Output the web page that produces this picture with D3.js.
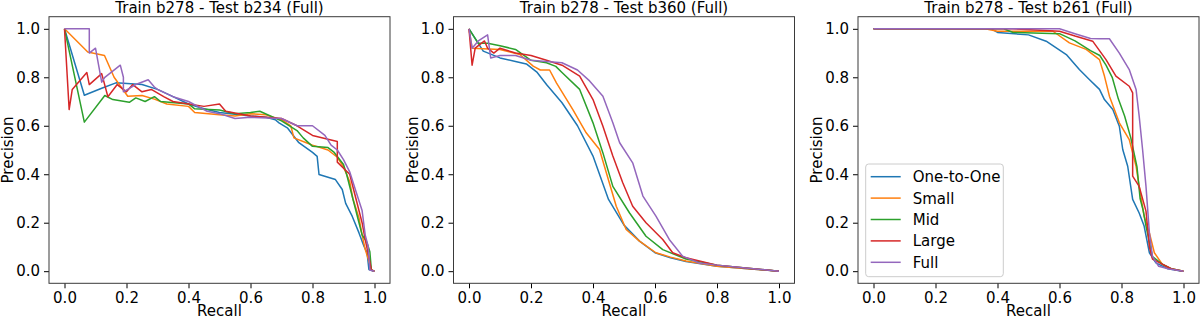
<html>
<head>
<style>
  body { margin: 0; background: #fff; }
  svg text { font-family: "DejaVu Sans", sans-serif; fill: #000; }
  .tick text { font-size: 15px; }
  .tick line { stroke: #000; }
  .domain { stroke: none; }
  .frame { fill: none; stroke: #3a3a3a; stroke-width: 1; }
  .curve { fill: none; stroke-width: 1.5; stroke-linejoin: round; }
</style>
<script src="https://d3js.org/d3.v7.min.js"></script>
</head>
<body>
<svg width="1200" height="321"></svg>
<script>
// series names and colours (legend order)
const seriesNames = ["One-to-One", "Small", "Mid", "Large", "Full"];
const seriesColors = ["#1f77b4", "#ff7f0e", "#2ca02c", "#d62728", "#9467bd"];
const tickValues = [0, 0.2, 0.4, 0.6, 0.8, 1.0];
const titles = ["Train b278 - Test b234 (Full)", "Train b278 - Test b360 (Full)", "Train b278 - Test b261 (Full)"];

// --- Test b234 : [recall, precision]
const b234_oneToOne = [[0,1],[0.064,0.726],[0.12,0.755],[0.166,0.777],[0.25,0.77],[0.3,0.75],[0.35,0.72],[0.4,0.69],[0.45,0.67],[0.5,0.655],[0.6,0.64],[0.65,0.635],[0.68,0.625],[0.692,0.612],[0.72,0.59],[0.756,0.53],[0.8,0.49],[0.815,0.474],[0.821,0.399],[0.874,0.378],[0.896,0.337],[0.907,0.28],[0.928,0.227],[0.95,0.158],[0.966,0.103],[0.976,0.076],[0.982,0.007],[0.998,0]];
const b234_small = [[0,1],[0.075,0.904],[0.129,0.89],[0.16,0.8],[0.204,0.722],[0.25,0.725],[0.29,0.71],[0.33,0.69],[0.4,0.68],[0.42,0.655],[0.5,0.645],[0.55,0.64],[0.6,0.65],[0.65,0.645],[0.7,0.625],[0.73,0.6],[0.74,0.55],[0.78,0.53],[0.8,0.52],[0.85,0.5],[0.88,0.47],[0.9,0.43],[0.92,0.37],[0.93,0.3],[0.95,0.22],[0.96,0.15],[0.97,0.09],[0.98,0.05],[0.99,0.005],[1,0]];
const b234_mid = [[0,1],[0.064,0.615],[0.13,0.725],[0.156,0.708],[0.209,0.697],[0.23,0.715],[0.26,0.7],[0.29,0.72],[0.31,0.7],[0.4,0.69],[0.42,0.67],[0.5,0.665],[0.55,0.65],[0.6,0.655],[0.63,0.66],[0.7,0.62],[0.75,0.58],[0.77,0.55],[0.8,0.515],[0.85,0.51],[0.87,0.49],[0.9,0.44],[0.91,0.4],[0.93,0.3],[0.95,0.2],[0.96,0.15],[0.975,0.12],[0.985,0.08],[0.99,0.005],[1,0]];
const b234_large = [[0,1],[0.015,0.667],[0.025,0.75],[0.072,0.82],[0.08,0.77],[0.12,0.815],[0.14,0.72],[0.17,0.77],[0.2,0.74],[0.22,0.77],[0.25,0.74],[0.28,0.75],[0.32,0.72],[0.35,0.7],[0.4,0.69],[0.45,0.68],[0.5,0.69],[0.52,0.66],[0.6,0.64],[0.7,0.63],[0.75,0.6],[0.8,0.56],[0.88,0.535],[0.88,0.45],[0.92,0.4],[0.94,0.3],[0.96,0.2],[0.97,0.13],[0.98,0.07],[0.99,0.005],[1,0]];
const b234_full = [[0,1],[0.08,1],[0.08,0.9],[0.1,0.92],[0.11,0.85],[0.12,0.78],[0.13,0.8],[0.18,0.85],[0.19,0.8],[0.19,0.74],[0.23,0.77],[0.27,0.79],[0.29,0.76],[0.3,0.75],[0.35,0.72],[0.4,0.7],[0.43,0.68],[0.46,0.66],[0.5,0.65],[0.55,0.63],[0.6,0.635],[0.7,0.63],[0.75,0.6],[0.8,0.6],[0.84,0.56],[0.86,0.52],[0.88,0.5],[0.9,0.46],[0.92,0.41],[0.94,0.33],[0.96,0.25],[0.97,0.15],[0.98,0.1],[0.985,0.005],[1,0]];

// --- Test b360
const b360_oneToOne = [[0,1],[0.046,0.908],[0.1,0.88],[0.15,0.865],[0.185,0.855],[0.22,0.82],[0.25,0.77],[0.3,0.695],[0.35,0.6],[0.4,0.475],[0.45,0.296],[0.5,0.19],[0.55,0.124],[0.6,0.076],[0.65,0.055],[0.7,0.04],[0.8,0.02],[0.9,0.01],[1,0]];
const b360_small = [[0,1],[0.01,0.92],[0.1,0.915],[0.164,0.894],[0.207,0.846],[0.23,0.83],[0.26,0.83],[0.282,0.777],[0.335,0.667],[0.378,0.571],[0.421,0.502],[0.443,0.406],[0.475,0.268],[0.507,0.172],[0.55,0.124],[0.603,0.076],[0.65,0.058],[0.7,0.042],[0.8,0.02],[0.9,0.01],[1,0]];
const b360_mid = [[0,1],[0.03,0.94],[0.06,0.94],[0.1,0.93],[0.15,0.915],[0.2,0.87],[0.25,0.86],[0.28,0.845],[0.3,0.82],[0.357,0.75],[0.4,0.612],[0.432,0.488],[0.464,0.35],[0.518,0.24],[0.571,0.144],[0.625,0.089],[0.7,0.05],[0.8,0.025],[0.9,0.012],[1,0]];
const b360_large = [[0,1],[0.01,0.85],[0.02,0.92],[0.05,0.95],[0.06,0.92],[0.08,0.9],[0.1,0.92],[0.15,0.9],[0.2,0.89],[0.25,0.87],[0.3,0.85],[0.357,0.805],[0.4,0.708],[0.432,0.598],[0.464,0.475],[0.496,0.365],[0.528,0.268],[0.571,0.2],[0.625,0.131],[0.657,0.076],[0.7,0.055],[0.8,0.025],[0.9,0.012],[1,0]];
const b360_full = [[0,1],[0.01,0.92],[0.03,0.95],[0.06,0.975],[0.07,0.88],[0.1,0.89],[0.15,0.89],[0.2,0.87],[0.3,0.86],[0.35,0.83],[0.389,0.785],[0.432,0.722],[0.464,0.612],[0.486,0.53],[0.528,0.447],[0.561,0.31],[0.603,0.227],[0.646,0.131],[0.689,0.062],[0.743,0.034],[0.8,0.025],[0.9,0.012],[1,0]];

// --- Test b261
const b261_oneToOne = [[0,1],[0.38,1],[0.4,0.985],[0.5,0.975],[0.557,0.949],[0.622,0.894],[0.664,0.832],[0.697,0.79],[0.729,0.75],[0.745,0.708],[0.772,0.667],[0.793,0.598],[0.804,0.502],[0.82,0.433],[0.836,0.296],[0.857,0.24],[0.873,0.186],[0.89,0.076],[0.911,0.034],[0.95,0.01],[0.997,0]];
const b261_small = [[0,1],[0.36,1],[0.4,0.99],[0.579,0.99],[0.632,0.942],[0.686,0.915],[0.729,0.873],[0.745,0.805],[0.761,0.722],[0.793,0.612],[0.825,0.543],[0.847,0.433],[0.857,0.35],[0.873,0.227],[0.89,0.158],[0.906,0.076],[0.932,0.028],[0.96,0.01],[1,0]];
const b261_mid = [[0,1],[0.42,1],[0.45,0.985],[0.6,0.98],[0.65,0.95],[0.7,0.91],[0.73,0.89],[0.75,0.85],[0.77,0.8],[0.79,0.71],[0.81,0.64],[0.83,0.55],[0.85,0.43],[0.86,0.3],[0.87,0.25],[0.88,0.18],[0.9,0.06],[0.93,0.03],[0.96,0.01],[1,0]];
const b261_large = [[0,1],[0.45,1],[0.6,0.99],[0.65,0.97],[0.707,0.949],[0.75,0.873],[0.782,0.805],[0.825,0.763],[0.836,0.736],[0.836,0.392],[0.857,0.35],[0.879,0.248],[0.89,0.1],[0.9,0.05],[0.93,0.03],[0.96,0.01],[1,0]];
const b261_full = [[0,1],[0.6,1],[0.65,0.98],[0.7,0.96],[0.729,0.959],[0.761,0.959],[0.793,0.9],[0.825,0.832],[0.847,0.75],[0.857,0.64],[0.868,0.502],[0.879,0.35],[0.89,0.158],[0.9,0.06],[0.92,0.02],[0.95,0.01],[1,0]];

const panels = [
  [b234_oneToOne, b234_small, b234_mid, b234_large, b234_full],
  [b360_oneToOne, b360_small, b360_mid, b360_large, b360_full],
  [b261_oneToOne, b261_small, b261_mid, b261_large, b261_full]
];

const svg = d3.select("svg");
const lefts = [49, 453.5, 858];
const topY = 16.7, w = 341, h = 266.6;

panels.forEach(function(series, pi) {
  const g = svg.append("g").attr("transform", "translate(" + lefts[pi] + "," + topY + ")");
  const xs = d3.scaleLinear().domain([-0.05, 1.05]).range([0, w]);
  const ys = d3.scaleLinear().domain([-0.05, 1.05]).range([h, 0]);

  g.append("g").attr("transform", "translate(0," + h + ")")
    .call(d3.axisBottom(xs).tickValues(tickValues).tickFormat(d3.format(".1f")).tickSize(5).tickPadding(4));
  g.append("g")
    .call(d3.axisLeft(ys).tickValues(tickValues).tickFormat(d3.format(".1f")).tickSize(5).tickPadding(4));

  const line = d3.line().x(d => xs(d[0])).y(d => ys(d[1]));
  g.selectAll(".curve").data(series).enter().append("path")
    .attr("class", "curve")
    .attr("stroke", (d, i) => seriesColors[i])
    .attr("d", line);

  g.append("rect").attr("class", "frame").attr("width", w).attr("height", h);

  g.append("text").attr("x", w / 2).attr("y", -4).attr("text-anchor", "middle")
    .style("font-size", "15px").text(titles[pi]);
  g.append("text").attr("x", w / 2).attr("y", h + 33).attr("text-anchor", "middle")
    .style("font-size", "15px").text("Recall");
  g.append("text").attr("transform", "translate(-36," + (h / 2) + ") rotate(-90)")
    .attr("text-anchor", "middle").style("font-size", "15px").text("Precision");

  if (pi === 2) {
    const lg = g.append("g").attr("transform", "translate(7.7,147.3)");
    lg.append("rect").attr("width", 137.6).attr("height", 112.7).attr("rx", 3)
      .attr("fill", "#fff").attr("fill-opacity", 0.8).attr("stroke", "#ccc");
    const rows = lg.selectAll(".lrow").data(seriesNames).enter().append("g")
      .attr("transform", (d, i) => "translate(0," + (12.7 + i * 21.4) + ")");
    rows.append("line").attr("x1", 5).attr("x2", 35)
      .attr("stroke", (d, i) => seriesColors[i]).attr("stroke-width", 1.5);
    rows.append("text").attr("x", 47).attr("y", 5.5).style("font-size", "15px").text(d => d);
  }
});
</script>
</body>
</html>
